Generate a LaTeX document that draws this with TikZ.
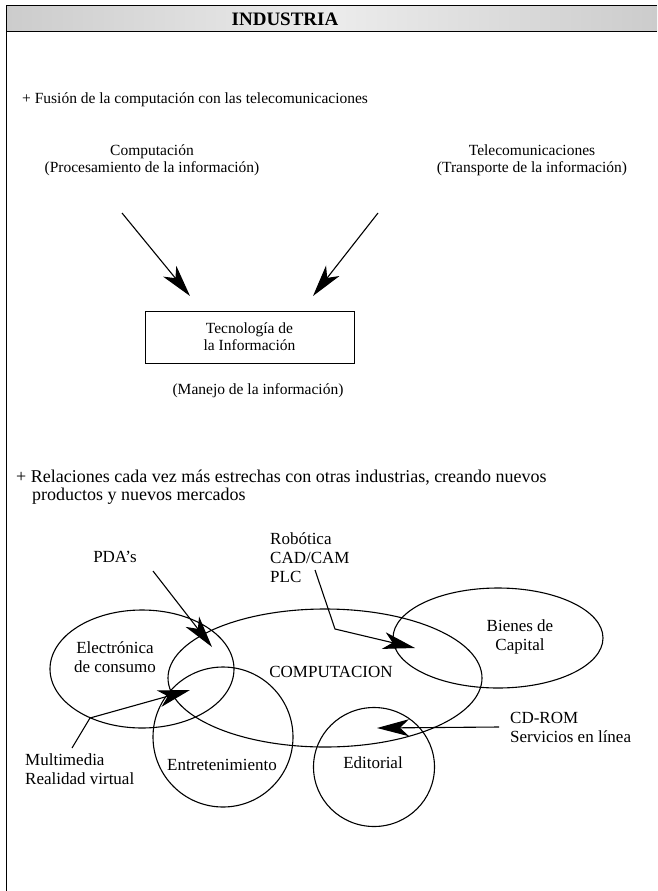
\documentclass[tikz,border=0pt]{standalone}
\usepackage{fontspec}
\setmainfont{Liberation Serif}
\usetikzlibrary{arrows.meta,shapes.geometric}
\begin{document}
\begin{tikzpicture}[x=1pt,y=-1pt,
  up/.style={font=\fontsize{15.5}{17}\selectfont, inner sep=0pt, align=center},
  lo/.style={font=\fontsize{17}{19}\selectfont, inner sep=0pt, align=center},
  arr/.style={line width=1.1pt, -{Stealth[length=32pt,width=17pt,inset=9pt]}},
  shp/.style={draw, line width=1.1pt, ellipse, inner sep=0pt},
  rule/.style={line width=1pt}
]
\useasboundingbox (0,0) rectangle (657,891);
\fill[white] (0,0) rectangle (657,891);
% header band
\shade[left color=gray!40, right color=gray!40, middle color=gray!15] (6,6) rectangle (657,32);
\draw[rule] (6,6) -- (657,6);
\draw[rule] (6,32) -- (657,32);
\draw[rule] (6,6) -- (6,891);
\node[font=\bfseries\fontsize{19}{21}\selectfont, inner sep=0pt] (title) at (285,19.5) {INDUSTRIA};

% first section
\node[up, anchor=west] (fus) at (22,100) {+ Fusión de la computación con las telecomunicaciones};
\node[up] (comp) at (152,160) {Computación\\(Procesamiento de la información)};
\node[up] (tele) at (532,160) {Telecomunicaciones\\(Transporte de la información)};
\node[up, draw, line width=1pt, minimum width=209pt, minimum height=52pt] (box) at (249.5,337) {Tecnología de\\la Información};
\node[up] (manejo) at (258,391) {(Manejo de la información)};
\coordinate (cs) at (122,213);
\coordinate (ce) at (190,296);
\coordinate (ts) at (378,213);
\coordinate (te) at (313,296);
\draw[arr] (cs) -- (ce);
\draw[arr] (ts) -- (te);

% second section
\node[font=\fontsize{18}{18}\selectfont, inner sep=0pt, anchor=north west, align=left] (rel) at (16,470) {+ Relaciones cada vez más estrechas con otras industrias, creando nuevos\\\hspace*{16pt}productos y nuevos mercados};

% shapes
\node[shp, minimum width=314pt, minimum height=138pt] (C) at (325,678) {};
\node[shp, minimum width=184pt, minimum height=118pt] (E) at (142,669) {};
\node[shp, minimum width=210pt, minimum height=100pt] (B) at (498,638) {};
\node[shp, minimum width=140pt, minimum height=140pt] (T) at (223,737) {};
\node[shp, minimum width=121pt, minimum height=119pt] (D) at (374,767) {};

% labels
\node[lo] (lC) at (331,672) {COMPUTACION};
\node[lo] (lE) at (115,657) {Electrónica\\de consumo};
\node[lo] (lB) at (520,637) {Bienes de\\Capital};
\node[lo] (lT) at (222,765) {Entretenimiento};
\node[lo] (lD) at (373,763) {Editorial};
\node[lo] (pda) at (115,557) {PDA's};
\node[lo, anchor=west, align=left] (rob) at (270,558) {Robótica\\CAD/CAM\\PLC};
\node[lo, anchor=west, align=left] (cd) at (510,727) {CD-ROM\\Servicios en línea};
\node[lo, anchor=west, align=left] (mm) at (25,769) {Multimedia\\Realidad virtual};

% arrows
\coordinate (pdaS) at (153,571);
\coordinate (pdaE) at (212,647);
\draw[arr] (pdaS) -- (pdaE);
\coordinate (robS) at (315,570);
\coordinate (robM) at (335,629);
\coordinate (robE) at (415,648);
\draw[arr] (robS) -- (robM) -- (robE);
\coordinate (mmS) at (72,748);
\coordinate (mmM) at (90,718);
\coordinate (mmE) at (190,690);
\draw[arr] (mmS) -- (mmM) -- (mmE);
\coordinate (cdS) at (499,727);
\coordinate (cdE) at (377,728);
\draw[arr] (cdS) -- (cdE);
\end{tikzpicture}
\end{document}
